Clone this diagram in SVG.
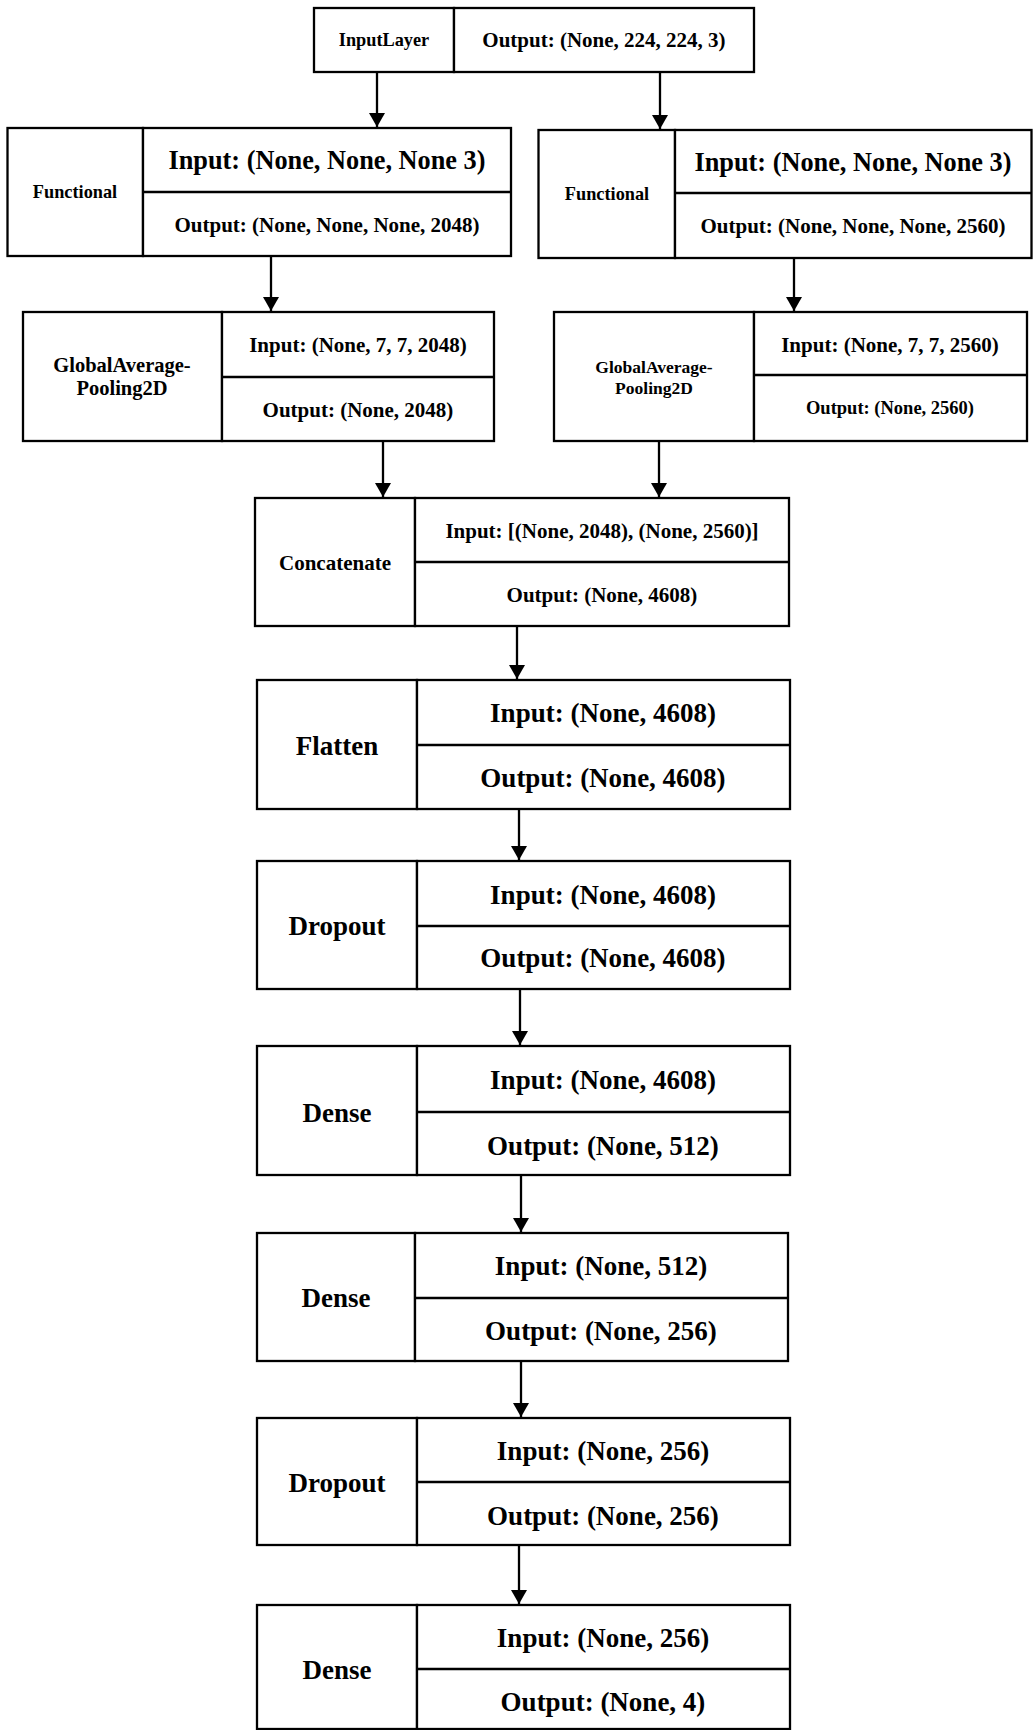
<svg xmlns="http://www.w3.org/2000/svg" width="1033" height="1730" viewBox="0 0 1033 1730">
<style>
  rect, line.d { fill: #fff; stroke: #000; stroke-width: 2.3; }
  line.d { fill: none; }
  text { font-family: "Liberation Serif", "Times New Roman", serif; font-weight: bold; fill: #000; text-anchor: middle; dominant-baseline: central; }
  .c line { stroke: #000; stroke-width: 2.3; }
  .f18 { font-size: 18.3px; }
  .f175 { font-size: 17.5px; }
  .f185 { font-size: 18.5px; }
  .f205 { font-size: 20.5px; }
  .f21 { font-size: 21px; }
  .f26 { font-size: 26.3px; }
  .f27 { font-size: 27px; }
</style>
<defs>
  <marker id="ah" viewBox="0 0 14 16" refX="14" refY="8" markerWidth="14" markerHeight="16" markerUnits="userSpaceOnUse" orient="auto">
    <path d="M0,0 L14,8 L0,16 Z" fill="#000"/>
  </marker>
</defs>

<g id="connectors" class="c">
  <line x1="377" y1="72" x2="377" y2="127" marker-end="url(#ah)"/>
  <line x1="660" y1="72" x2="660" y2="129" marker-end="url(#ah)"/>
  <line x1="271" y1="256" x2="271" y2="311" marker-end="url(#ah)"/>
  <line x1="794" y1="258" x2="794" y2="311" marker-end="url(#ah)"/>
  <line x1="383" y1="441" x2="383" y2="497" marker-end="url(#ah)"/>
  <line x1="659" y1="441" x2="659" y2="497" marker-end="url(#ah)"/>
  <line x1="517" y1="626" x2="517" y2="679" marker-end="url(#ah)"/>
  <line x1="519" y1="809" x2="519" y2="860" marker-end="url(#ah)"/>
  <line x1="520" y1="989" x2="520" y2="1045" marker-end="url(#ah)"/>
  <line x1="521" y1="1175" x2="521" y2="1232" marker-end="url(#ah)"/>
  <line x1="521" y1="1361" x2="521" y2="1417" marker-end="url(#ah)"/>
  <line x1="519" y1="1545" x2="519" y2="1604" marker-end="url(#ah)"/>
</g>

<g id="inputlayer">
  <rect x="314" y="8" width="140" height="64"/>
  <rect x="454" y="8" width="300" height="64"/>
  <text class="f18" x="384" y="40">InputLayer</text>
  <text class="f21" x="604" y="40">Output: (None, 224, 224, 3)</text>
</g>

<g id="functional-left">
  <rect x="7.5" y="128" width="135.5" height="128"/>
  <rect x="143" y="128" width="368" height="128"/>
  <line class="d" x1="143" y1="192" x2="511" y2="192"/>
  <text class="f18" x="75" y="192">Functional</text>
  <text class="f26" x="327" y="160">Input: (None, None, None 3)</text>
  <text class="f21" x="327" y="225">Output: (None, None, None, 2048)</text>
</g>

<g id="functional-right">
  <rect x="538.5" y="130" width="136.5" height="128"/>
  <rect x="675" y="130" width="356.5" height="128"/>
  <line class="d" x1="675" y1="193" x2="1031.5" y2="193"/>
  <text class="f18" x="607" y="194">Functional</text>
  <text class="f26" x="853" y="162">Input: (None, None, None 3)</text>
  <text class="f21" x="853" y="226">Output: (None, None, None, 2560)</text>
</g>

<g id="gap-left">
  <rect x="23" y="312" width="199" height="129"/>
  <rect x="222" y="312" width="272" height="129"/>
  <line class="d" x1="222" y1="377" x2="494" y2="377"/>
  <text class="f205" x="122" y="365">GlobalAverage-</text>
  <text class="f205" x="122" y="388">Pooling2D</text>
  <text class="f21" x="358" y="345">Input: (None, 7, 7, 2048)</text>
  <text class="f21" x="358" y="410">Output: (None, 2048)</text>
</g>

<g id="gap-right">
  <rect x="554" y="312" width="200" height="129"/>
  <rect x="754" y="312" width="273" height="129"/>
  <line class="d" x1="754" y1="375" x2="1027" y2="375"/>
  <text class="f175" x="654" y="367">GlobalAverage-</text>
  <text class="f175" x="654" y="388">Pooling2D</text>
  <text class="f21" x="890" y="345">Input: (None, 7, 7, 2560)</text>
  <text class="f185" x="890" y="408">Output: (None, 2560)</text>
</g>

<g id="concatenate">
  <rect x="255" y="498" width="160" height="128"/>
  <rect x="415" y="498" width="374" height="128"/>
  <line class="d" x1="415" y1="562" x2="789" y2="562"/>
  <text class="f21" x="335" y="563">Concatenate</text>
  <text class="f21" x="602" y="531">Input: [(None, 2048), (None, 2560)]</text>
  <text class="f21" x="602" y="595">Output: (None, 4608)</text>
</g>

<g id="flatten">
  <rect x="257" y="680" width="160" height="129"/>
  <rect x="417" y="680" width="373" height="129"/>
  <line class="d" x1="417" y1="745" x2="790" y2="745"/>
  <text class="f27" x="337" y="746">Flatten</text>
  <text class="f27" x="603" y="713">Input: (None, 4608)</text>
  <text class="f27" x="603" y="778">Output: (None, 4608)</text>
</g>

<g id="dropout-1">
  <rect x="257" y="861" width="160" height="128"/>
  <rect x="417" y="861" width="373" height="128"/>
  <line class="d" x1="417" y1="926" x2="790" y2="926"/>
  <text class="f27" x="337" y="926">Dropout</text>
  <text class="f27" x="603" y="895">Input: (None, 4608)</text>
  <text class="f27" x="603" y="958">Output: (None, 4608)</text>
</g>

<g id="dense-1">
  <rect x="257" y="1046" width="160" height="129"/>
  <rect x="417" y="1046" width="373" height="129"/>
  <line class="d" x1="417" y1="1112" x2="790" y2="1112"/>
  <text class="f27" x="337" y="1113">Dense</text>
  <text class="f27" x="603" y="1080">Input: (None, 4608)</text>
  <text class="f27" x="603" y="1146">Output: (None, 512)</text>
</g>

<g id="dense-2">
  <rect x="257" y="1233" width="158" height="128"/>
  <rect x="415" y="1233" width="373" height="128"/>
  <line class="d" x1="415" y1="1298" x2="788" y2="1298"/>
  <text class="f27" x="336" y="1298">Dense</text>
  <text class="f27" x="601" y="1266">Input: (None, 512)</text>
  <text class="f27" x="601" y="1331">Output: (None, 256)</text>
</g>

<g id="dropout-2">
  <rect x="257" y="1418" width="160" height="127"/>
  <rect x="417" y="1418" width="373" height="127"/>
  <line class="d" x1="417" y1="1482" x2="790" y2="1482"/>
  <text class="f27" x="337" y="1483">Dropout</text>
  <text class="f27" x="603" y="1451">Input: (None, 256)</text>
  <text class="f27" x="603" y="1516">Output: (None, 256)</text>
</g>

<g id="dense-3">
  <rect x="257" y="1605" width="160" height="124"/>
  <rect x="417" y="1605" width="373" height="124"/>
  <line class="d" x1="417" y1="1669" x2="790" y2="1669"/>
  <text class="f27" x="337" y="1670">Dense</text>
  <text class="f27" x="603" y="1638">Input: (None, 256)</text>
  <text class="f27" x="603" y="1702">Output: (None, 4)</text>
</g>
</svg>
